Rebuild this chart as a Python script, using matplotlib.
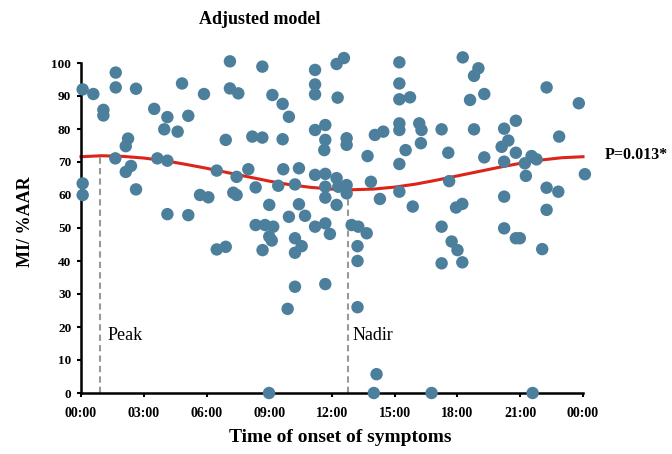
import matplotlib
matplotlib.use('Agg')
import matplotlib.pyplot as plt

# onset time (hours) and MI/%AAR for each patient
hours = [0.08, 0.59, 1.07, 1.07, 1.66, 1.66, 2.63, 2.25, 2.14, 1.64, 2.39, 2.14, 2.63, 0.08, 0.08,
         3.5, 4.13, 3.98, 4.62, 5.13, 4.83, 5.88, 3.65, 4.13, 6.49, 7.44, 5.69, 6.09, 4.13, 5.13,
         7.12, 7.12, 7.52, 6.92, 7.28, 7.44, 6.49, 6.92,
         8.67, 9.15, 9.64, 9.94, 11.19, 11.19, 11.19, 12.22, 12.57, 12.27, 8.19, 8.67, 9.64, 11.19,
         11.68, 11.68, 11.63, 12.7, 12.7, 13.7, 14.05, 14.45,
         8.0, 9.67, 10.42, 11.19, 11.68, 12.22, 12.7, 12.3, 13.86, 8.35, 9.43, 10.23, 11.68, 11.68,
         12.22, 12.7, 14.29, 9.0, 10.42, 9.94, 10.71, 8.35, 8.8, 9.19, 11.19, 11.68, 12.94, 13.26,
         11.9, 13.66, 9.0, 9.12, 10.23, 10.55, 8.68, 10.23, 13.22, 13.22, 10.23, 11.68, 9.88, 13.22,
         14.13, 8.99, 14.0,
         15.22, 15.22, 15.22, 15.73, 18.25, 19.0, 18.79, 19.28, 18.6, 22.26, 23.8, 15.22, 15.22,
         16.17, 16.28, 17.24, 18.79, 20.23, 20.79, 22.86, 15.52, 16.25, 17.56, 19.28, 20.43, 20.11,
         20.79, 20.23, 21.22, 21.54, 21.78, 21.27, 24.09, 15.22, 17.6, 15.22, 22.26, 22.82, 15.86,
         17.93, 18.23, 20.23, 22.26, 17.24, 20.23,
         17.72, 18.0, 17.24, 18.23, 20.79, 20.98, 22.05, 16.76, 21.59]
mi_aar = [92.0, 90.6, 85.8, 84.1, 97.1, 92.6, 92.2, 77.1, 74.8, 71.1, 68.8, 67.0, 61.7, 63.5, 60.0,
          86.1, 83.6, 79.9, 79.2, 84.0, 93.8, 90.6, 71.1, 70.4, 67.4, 65.5, 60.0, 59.3, 54.2, 53.9,
          100.5, 92.3, 90.8, 76.7, 60.7, 60.0, 43.5, 44.3,
          98.9, 90.3, 87.6, 83.7, 97.9, 93.5, 90.5, 99.7, 101.5, 89.5, 77.7, 77.4, 76.9, 79.7,
          81.2, 76.7, 73.6, 77.2, 75.2, 71.8, 78.2, 79.2,
          67.8, 67.8, 68.1, 66.1, 66.4, 65.1, 63.0, 62.5, 64.0, 62.3, 62.8, 63.2, 62.5, 59.2,
          57.0, 60.5, 58.8, 57.0, 57.2, 53.4, 53.7, 50.9, 50.9, 50.4, 50.4, 51.4, 50.9, 50.4,
          48.2, 48.4, 47.4, 46.2, 46.9, 44.5, 43.3, 42.5, 44.5, 40.0, 32.2, 33.0, 25.5, 26.0,
          5.7, 0.0, 0.0,
          100.2, 93.8, 89.0, 89.6, 101.7, 98.4, 96.1, 90.6, 88.8, 92.6, 87.8, 81.7, 79.7,
          81.7, 79.7, 79.9, 79.9, 80.1, 82.5, 77.7, 73.6, 75.7, 72.8, 71.4, 76.5, 74.6,
          72.8, 70.1, 69.6, 71.8, 70.8, 65.8, 66.3, 69.4, 64.2, 61.0, 62.2, 61.0, 56.5,
          56.2, 57.3, 59.5, 55.5, 50.4, 49.9,
          45.9, 43.3, 39.3, 39.6, 46.9, 46.9, 43.6, 0.0, 0.0]

# fitted cosinor curve, read at each hour
fit_hours = list(range(25))
fit_vals = [71.6, 71.9, 71.7, 71.2, 70.4, 69.3, 68.1, 66.8, 65.5, 64.2, 63.1, 62.3, 61.8,
            61.6, 61.8, 62.4, 63.3, 64.5, 65.8, 67.1, 68.4, 69.6, 70.6, 71.3, 71.6]

peak_h, peak_v = 0.91, 71.9
nadir_h, nadir_v = 12.75, 61.6

xtick_labels = ['00:00', '03:00', '06:00', '09:00', '12:00', '15:00', '18:00', '21:00', '00:00']

plt.rcParams['font.family'] = ['Liberation Serif', 'DejaVu Serif']

fig = plt.figure(figsize=(6.72, 4.54), dpi=100)
ax = fig.add_axes([81/672, 1-393/454, 502/672, 330/454])

ax.plot([peak_h, peak_h], [0, peak_v], color='#999999', lw=1.5, ls=(0, (3, 2)), zorder=1)
ax.plot([nadir_h, nadir_h], [0, nadir_v], color='#999999', lw=1.5, ls=(0, (3, 2)), zorder=1)

ax.scatter(hours, mi_aar, s=80, color='#4b7f9c', edgecolors='none', zorder=3, clip_on=False)
ax.plot(fit_hours, fit_vals, color='#dd2418', lw=2.2, zorder=2, clip_on=False)

ax.set_xlim(0, 24)
ax.set_ylim(0, 100)
ax.set_xticks(range(0, 25, 3))
ax.set_xticklabels(xtick_labels)
ax.set_yticks(range(0, 101, 10))
for lab in ax.get_xticklabels() + ax.get_yticklabels():
    lab.set_fontweight('bold')
ax.tick_params(axis='x', labelsize=10, length=3, width=1.5, pad=7)
ax.tick_params(axis='y', labelsize=9.5, length=3, width=1.5, pad=4)

for s in ['top', 'right']:
    ax.spines[s].set_visible(False)
for s in ['left', 'bottom']:
    ax.spines[s].set_linewidth(1.8)

ax.text(peak_h + 0.35, 17.5, 'Peak', fontsize=13, va='center', ha='left')
ax.text(nadir_h + 0.25, 17.5, 'Nadir', fontsize=13, va='center', ha='left')

fig.text(605/672, 1-155/454, 'P=0.013*', fontsize=11.5, fontweight='bold', va='center', ha='left')
fig.text(260/672, 1-19/454, 'Adjusted model', fontsize=13, fontweight='bold', ha='center', va='center')
fig.text(26/672, 1-222/454, 'MI/ %AAR', fontsize=13, fontweight='bold', rotation=90, ha='center', va='center')
fig.text(340/672, 1-438/454, 'Time of onset of symptoms', fontsize=14, fontweight='bold', ha='center', va='center')

fig.savefig('out.png', dpi=100)
